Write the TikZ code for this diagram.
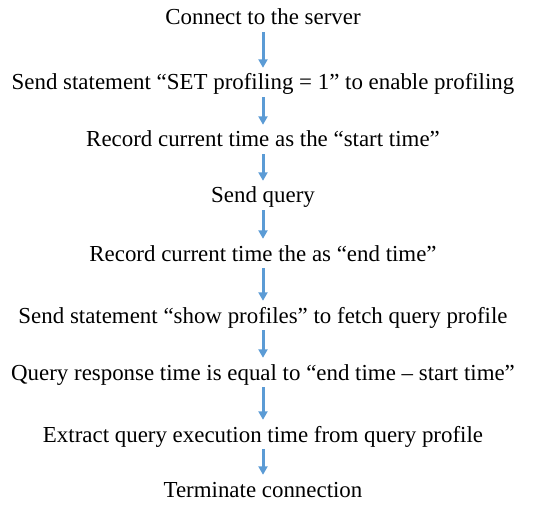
\documentclass[tikz,border=0pt]{standalone}
\usepackage{fontspec}
\setmainfont{Liberation Serif}
\usetikzlibrary{arrows.meta}

\begin{document}
\begin{tikzpicture}[x=1pt,y=1pt,
      every node/.style={inner sep=0pt,font=\rmfamily\fontsize{22.9}{27}\selectfont,
        text height=16pt,text depth=5pt,anchor=base},
      flow/.style={draw={rgb,255:red,91;green,155;blue,213},line width=3pt,
        -{Triangle[width=9pt,length=8.5pt]},shorten <=2pt,shorten >=6pt}
    ]
      \useasboundingbox (0,0) rectangle (535,504);
      \node (connect) at (263,479) {Connect to the server};
      \node (setprof) at (263,414) {Send statement “SET profiling = 1” to enable profiling};
      \node (start) at (263,357) {Record current time as the “start time”};
      \node (query) at (263,301) {Send query};
      \node (end) at (263,243) {Record current time the as “end time”};
      \node (show) at (263,181) {Send statement “show profiles” to fetch query profile};
      \node (resp) at (263,124) {Query response time is equal to “end time – start time”};
      \node (extract) at (263,62) {Extract query execution time from query profile};
      \node (term) at (263,7) {Terminate connection};
      \draw[flow] (connect.south) -- (setprof.north);
      \draw[flow] (setprof.south) -- (start.north);
      \draw[flow] (start.south) -- (query.north);
      \draw[flow] (query.south) -- (end.north);
      \draw[flow] (end.south) -- (show.north);
      \draw[flow] (show.south) -- (resp.north);
      \draw[flow] (resp.south) -- (extract.north);
      \draw[flow] (extract.south) -- (term.north);
    \end{tikzpicture}
\end{document}
